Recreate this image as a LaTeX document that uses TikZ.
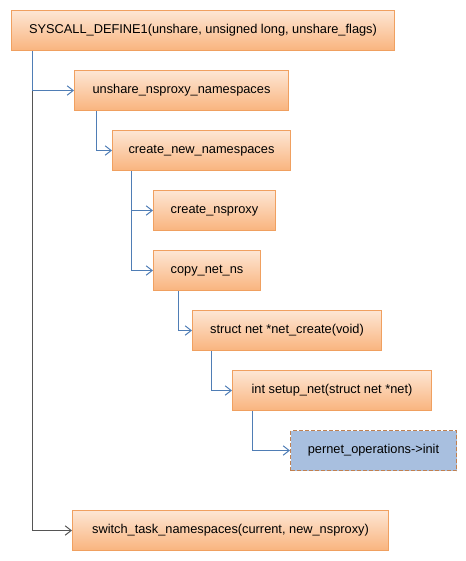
\documentclass[tikz,border=0pt]{standalone}
\usepackage{fontspec}
\setmainfont{Liberation Sans}
\usetikzlibrary{arrows.meta,calc}
\definecolor{boxtop}{HTML}{FDE6D4}
\definecolor{boxbot}{HTML}{F9B47E}
\definecolor{boxline}{HTML}{F0A060}
\definecolor{bluefill}{HTML}{A8BFDF}
\definecolor{blueline}{HTML}{C08050}
\definecolor{connblue}{HTML}{4F7DB5}
\definecolor{conngray}{HTML}{555555}
\begin{document}
\begin{tikzpicture}[x=0.75pt,y=-0.75pt,
  fbox/.style={draw=boxline,line width=0.75pt,top color=boxtop,bottom color=boxbot,
    rectangle,anchor=north west,inner sep=0pt,minimum height=30pt,
    font=\fontsize{9.6}{12}\selectfont,text=black},
  pbox/.style={draw=blueline,dashed,dash pattern=on 3pt off 1.5pt,line width=0.75pt,fill=bluefill,
    rectangle,anchor=north west,inner sep=0pt,minimum height=30pt,
    font=\fontsize{9.6}{12}\selectfont,text=black},
  conn/.style={draw=connblue,line width=0.75pt,-{Straight Barb[length=4.5pt,width=7pt]}},
  conng/.style={draw=conngray,line width=0.75pt,-{Straight Barb[length=4.5pt,width=7pt]}}]
\useasboundingbox (0,0) rectangle (465,561);
\node[fbox,minimum width=287.25pt] (b1) at (11,10) {SYSCALL\_DEFINE1(unshare, unsigned long, unshare\_flags)};
\node[fbox,minimum width=160.5pt] (b2) at (74,70) {unshare\_nsproxy\_namespaces};
\node[fbox,minimum width=133.5pt] (b3) at (112,130) {create\_new\_namespaces};
\node[fbox,minimum width=91.5pt] (b4) at (153,190) {create\_nsproxy};
\node[fbox,minimum width=80.25pt] (b5) at (153,250) {copy\_net\_ns};
\node[fbox,minimum width=141.75pt] (b6) at (192,310) {struct net *net\_create(void)};
\node[fbox,minimum width=149.25pt] (b7) at (232,370) {int setup\_net(struct net *net)};
\node[pbox,minimum width=124.5pt] (b8) at (290,430) {pernet\_operations->init};
\node[fbox,minimum width=237pt] (b9) at (72,510) {switch\_task\_namespaces(current, new\_nsproxy)};
\draw[conng] ($(b1.south west)+(21,0)$) |- (b9.west);
\draw[conn] ($(b1.south west)+(21,0)$) |- (b2.west);
\draw[conn] ($(b2.south west)+(22,0)$) |- (b3.west);
\draw[conn] ($(b3.south west)+(19,0)$) |- (b4.west);
\draw[conn] ($(b3.south west)+(19,0)$) |- (b5.west);
\draw[conn] ($(b5.south west)+(25,0)$) |- (b6.west);
\draw[conn] ($(b6.south west)+(19,0)$) |- (b7.west);
\draw[conn] ($(b7.south west)+(20,0)$) |- (b8.west);
\end{tikzpicture}
\end{document}
